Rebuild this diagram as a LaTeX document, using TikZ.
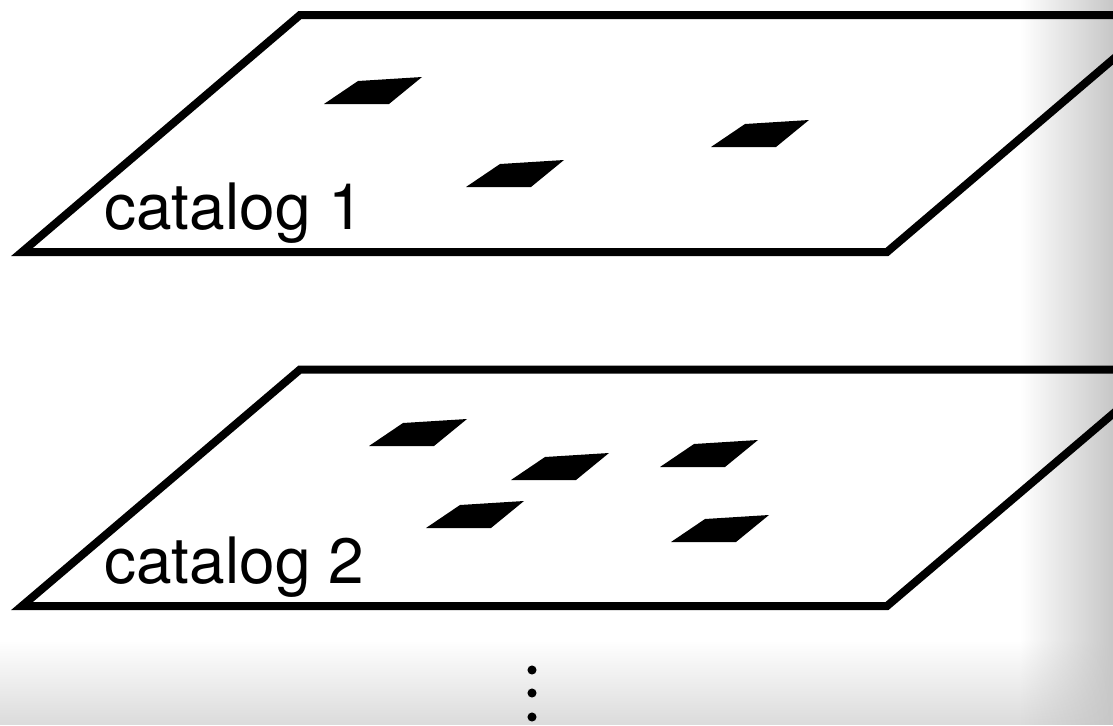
\documentclass[tikz,border=0pt]{standalone}
\usepackage{fontspec}
\setmainfont{TeX Gyre Heros}
\usetikzlibrary{fadings}
\tikzfading[name=fadeR, left color=transparent!100, right color=transparent!0]
\tikzfading[name=fadeB, top color=transparent!100, bottom color=transparent!0]
\newcommand\cellat[2]{\fill[cellfill] (#1,#2) -- ++(65,0) -- ++(33,-27) -- ++(-64,4) -- cycle;}
\begin{document}
\begin{tikzpicture}[x=0.75pt,y=-0.75pt,
  plane/.style={line width=6pt, line join=miter},
  cellfill/.style={fill=black},
  catlabel/.style={font=\fontsize{48}{52}\selectfont, anchor=base west, inner sep=0pt},
  dotnode/.style={circle, fill=black, inner sep=0pt, minimum size=6.8pt}]
\useasboundingbox (0,0) rectangle (1113,725);
\clip (0,0) rectangle (1113,725);
\fill[black!14, path fading=fadeB] (0,640) rectangle (1113,725);
\fill[black!22, path fading=fadeR] (1020,0) rectangle (1113,725);
% planes
\draw[plane] (22,252) -- (887,252) -- (1165,15) -- (300,15) -- cycle;
\draw[plane] (22,606) -- (887,606) -- (1165,369.5) -- (300,369.5) -- cycle;
% labels
\node[catlabel] (cat1) at (104,229) {catalog 1};
\node[catlabel] (cat2) at (104,583) {catalog 2};
% cells catalog 1
\cellat{324}{104}
\cellat{466}{187}
\cellat{711}{147}
% cells catalog 2
\cellat{369}{446}
\cellat{511}{480}
\cellat{660}{467}
\cellat{426}{528}
\cellat{671}{542}
% dots
\node[dotnode] (d1) at (532,670) {};
\node[dotnode] (d2) at (532,693) {};
\node[dotnode] (d3) at (532,717) {};
\end{tikzpicture}
\end{document}
